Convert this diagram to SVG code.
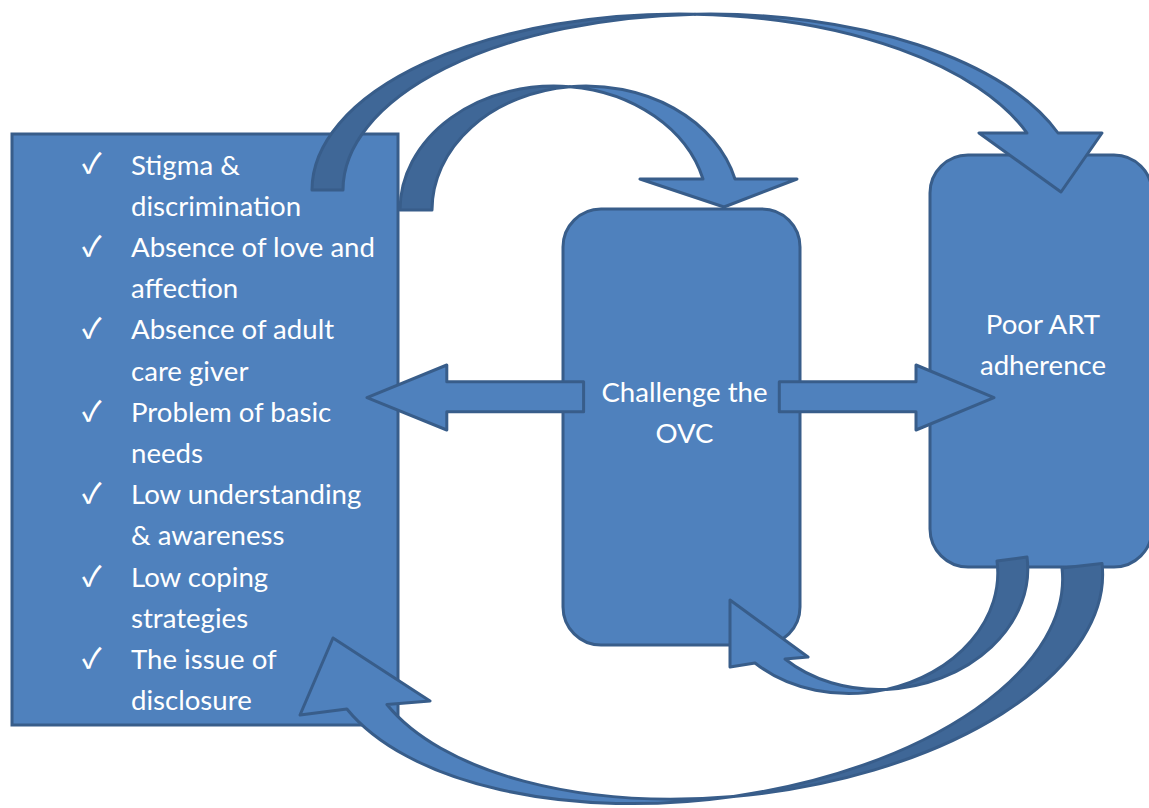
<svg xmlns="http://www.w3.org/2000/svg" width="1149" height="808" viewBox="0 0 1149 808">
  <style>
    .box { fill: #4F81BD; stroke: #385D8A; stroke-width: 3; }
    .front { fill: #4F81BD; stroke: #385D8A; stroke-width: 3; stroke-linejoin: round; }
    .back { fill: #3F6797; stroke: #385D8A; stroke-width: 3; stroke-linejoin: round; }
    .t { font-family: Lato, "Liberation Sans", sans-serif; font-size: 27.6px; fill: #FFFFFF; }
    .c { text-anchor: middle; }
    .chk { font-family: "Noto Sans CJK SC", "DejaVu Sans", sans-serif; font-size: 28px; font-weight: 500; fill: #FFFFFF; }
  </style>
  <rect width="1149" height="808" fill="#FFFFFF"/>

  <g id="node-factors">
    <rect class="box" x="12" y="134" width="386" height="591"/>
    <g class="chk">
      <text x="82" y="173">✓</text>
      <text x="82" y="255.5">✓</text>
      <text x="82" y="338">✓</text>
      <text x="82" y="420.5">✓</text>
      <text x="82" y="503">✓</text>
      <text x="82" y="585.5">✓</text>
      <text x="82" y="668">✓</text>
    </g>
    <g class="t">
      <text x="131" y="174.5">Stigma &amp;</text>
      <text x="131" y="215.7">discrimination</text>
      <text x="131" y="256.9">Absence of love and</text>
      <text x="131" y="298.1">affection</text>
      <text x="131" y="339.3">Absence of adult</text>
      <text x="131" y="380.5">care giver</text>
      <text x="131" y="421.7">Problem of basic</text>
      <text x="131" y="462.9">needs</text>
      <text x="131" y="504.1">Low understanding</text>
      <text x="131" y="545.3">&amp; awareness</text>
      <text x="131" y="586.5">Low coping</text>
      <text x="131" y="627.7">strategies</text>
      <text x="131" y="668.9">The issue of</text>
      <text x="131" y="710.1">disclosure</text>
    </g>
  </g>

  <g id="node-challenge">
    <rect class="box" x="563" y="209" width="237" height="436" rx="38" ry="38"/>
    <text class="t c" x="684.5" y="401.5">Challenge the</text>
    <text class="t c" x="684.5" y="443">OVC</text>
  </g>

  <g id="node-art">
    <rect class="box" x="930" y="155" width="222" height="412" rx="38" ry="38"/>
    <text class="t c" x="1043" y="334">Poor ART</text>
    <text class="t c" x="1043" y="375">adherence</text>
  </g>

  <g id="connectors">
    <polygon class="front" points="583.6,381.7 446.8,381.7 446.8,365 367,397.7 446.8,430 446.8,411.7 583.6,411.7"/>
    <polygon class="front" points="779.3,381.7 916,381.7 916,365 994,397.7 916,430 916,411.7 779.3,411.7"/>

    <path class="back" d="M312,190 A367.4,176 0 0 1 695,14.2 A367.4,176 0 0 0 343,190 Z"/>
    <path class="front" d="M695,14.2 A367.4,176 0 0 1 1058,133 L1102,133 L1061,192 L979,133 L1027,133 A367.4,176 0 0 0 695,14.2 Z"/>

    <path class="back" d="M400,210 A153.9,124 0 0 1 569.9,86.7 A153.9,124 0 0 0 432,210 Z"/>
    <path class="front" d="M569.9,86.7 A153.9,124 0 0 1 735,179 L797,179 L724,207 L640,179 L703,179 A153.9,124 0 0 0 569.9,86.7 Z"/>

    <path class="back" d="M1027,557 A141.4,113.5 -7.5 0 1 886.5,689.4 A141.4,113.5 -7.5 0 0 997,561 Z"/>
    <path class="front" d="M886.5,689.4 A141.4,113.5 -7.5 0 1 755,663 L730,667 L730,600 L808,657 L785,659 A141.4,113.5 -7.5 0 0 886.5,689.4 Z"/>

    <path class="back" d="M1102,563.4 A372.5,190 -6.5 0 1 733.4,796.4 A372.5,190 -6.5 0 0 1062,568 Z"/>
    <path class="front" d="M733.4,796.4 A372.5,190 -6.5 0 1 346.9,709 L300,715 L333,638 L430,701 L386.9,704.5 A372.5,190 -6.5 0 0 733.4,796.4 Z"/>
  </g>
</svg>
